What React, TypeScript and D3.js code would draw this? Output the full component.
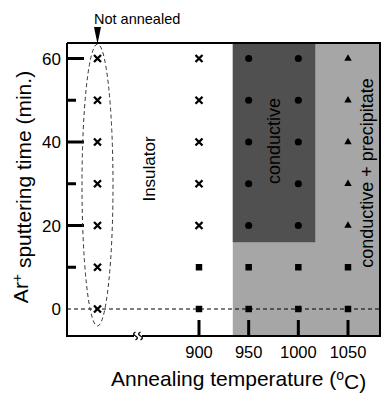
import * as d3 from "d3";
import React from "react";

// sputtering times (min.) and annealing temperatures (°C)
const times = [0, 10, 20, 30, 40, 50, 60];
const temps = [900, 950, 1000, 1050];
const yTicksMajor = [60, 40, 20];
const yTickLabels = [0, 20, 40, 60];
const yTicksMinor = [50, 30, 10];

// marker per time, for the not-annealed column and each temperature
const notAnnealedMarkers = ["x", "x", "x", "x", "x", "x", "x"];
const markers900 = ["square", "square", "x", "x", "x", "x", "x"];
const markers950 = ["square", "square", "circle", "circle", "circle", "circle", "circle"];
const markers1000 = ["square", "square", "circle", "circle", "circle", "circle", "circle"];
const markers1050 = ["square", "square", "triangle", "triangle", "triangle", "triangle", "triangle"];
const markersByTemp = [markers900, markers950, markers1000, markers1050];

// phase regions
const conductiveTemps = [934, 1017];
const conductiveMinTime = 16;
const precipitateStartTemp = 934;

const W = 381;
const H = 395;
const left = 67;
const right = 380;
const top = 43;
const bottom = 336;
const notAnnealedX = 97.5;
const font = "'Liberation Sans', Arial, sans-serif";

const x = d3.scaleLinear().domain([900, 1050]).range([199, 348]);
const y = d3.scaleLinear().domain([0, 60]).range([309, 58.5]);

const circlePath = d3.symbol().type(d3.symbolCircle).size(40)()!;
const squarePath = d3.symbol().type(d3.symbolSquare).size(42)()!;
const trianglePath = d3.symbol().type(d3.symbolTriangle).size(24)()!;

function Marker({ kind, cx, cy }: { kind: string; cx: number; cy: number }) {
  if (kind === "x") {
    const s = 3.5;
    return (
      <path
        d={`M${cx - s},${cy - s}L${cx + s},${cy + s}M${cx - s},${cy + s}L${cx + s},${cy - s}`}
        stroke="#000"
        strokeWidth={2.3}
      />
    );
  }
  const d = kind === "circle" ? circlePath : kind === "square" ? squarePath : trianglePath;
  return <path d={d} transform={`translate(${cx},${cy})`} fill="#000" />;
}

export default function App() {
  const bx = 138;
  return (
    <svg
      width={W}
      height={H}
      style={{ position: "absolute", left: 0, top: 0 }}
      fontFamily={font}
    >
      {/* regions */}
      <rect
        x={x(precipitateStartTemp)}
        y={top}
        width={right - x(precipitateStartTemp)}
        height={bottom - top}
        fill="#a6a6a6"
      />
      <rect
        x={x(conductiveTemps[0])}
        y={top}
        width={x(conductiveTemps[1]) - x(conductiveTemps[0])}
        height={y(conductiveMinTime) - top}
        fill="#505050"
      />

      {/* zero line */}
      <line x1={left} x2={right} y1={y(0)} y2={y(0)} stroke="#000" strokeWidth={1} strokeDasharray="4,3" />

      {/* frame */}
      <path
        d={`M${left},${top}H${right}V${bottom}H${bx + 4}M${bx - 4},${bottom}H${left}V${top}`}
        fill="none"
        stroke="#000"
        strokeWidth={2}
      />
      {/* axis break */}
      <path
        d={`M${bx - 2.5},${bottom - 4}c-2.5,1.5 -2.5,2.5 0,4c2.5,1.5 2.5,2.5 0,4M${bx + 2.5},${bottom - 4}c-2.5,1.5 -2.5,2.5 0,4c2.5,1.5 2.5,2.5 0,4`}
        fill="none"
        stroke="#000"
        strokeWidth={1.4}
      />

      {/* y ticks */}
      {yTicksMajor.map((t) => (
        <line key={"M" + t} x1={left} x2={left + 17} y1={y(t)} y2={y(t)} stroke="#000" strokeWidth={3} />
      ))}
      {yTicksMinor.map((t) => (
        <line key={"m" + t} x1={left} x2={left + 9} y1={y(t)} y2={y(t)} stroke="#000" strokeWidth={3} />
      ))}
      {yTickLabels.map((t) => (
        <text key={"l" + t} x={61} y={y(t)} dy="0.36em" textAnchor="end" fontSize={17}>
          {t}
        </text>
      ))}

      {/* x ticks */}
      {temps.map((t) => (
        <g key={"x" + t}>
          <line x1={x(t)} x2={x(t)} y1={bottom} y2={bottom - 16} stroke="#000" strokeWidth={3} />
          <text x={x(t)} y={358} textAnchor="middle" fontSize={16.5}>
            {t}
          </text>
        </g>
      ))}

      {/* markers */}
      {times.map((t, i) => (
        <Marker key={"na" + t} kind={notAnnealedMarkers[i]} cx={notAnnealedX} cy={y(t)} />
      ))}
      {temps.map((temp, j) =>
        times.map((t, i) => (
          <Marker key={temp + "-" + t} kind={markersByTemp[j][i]} cx={x(temp)} cy={y(t)} />
        ))
      )}

      {/* not annealed ellipse + arrow */}
      <ellipse
        cx={notAnnealedX}
        cy={185}
        rx={15.5}
        ry={141}
        fill="none"
        stroke="#333"
        strokeWidth={1}
        strokeDasharray="4,3"
      />
      <path d={`M${notAnnealedX - 3.5},27L${notAnnealedX + 3.5},27L${notAnnealedX},44Z`} fill="#000" />
      <text x={94} y={24} fontSize={14.5}>
        Not annealed
      </text>

      {/* region labels */}
      <text transform="translate(155,169) rotate(-90)" textAnchor="middle" fontSize={17}>
        Insulator
      </text>
      <text transform="translate(280,141) rotate(-90)" textAnchor="middle" fontSize={18}>
        conductive
      </text>
      <text transform="translate(373,173) rotate(-90)" textAnchor="middle" fontSize={18}>
        conductive + precipitate
      </text>

      {/* axis titles */}
      <text transform="translate(28,187) rotate(-90)" textAnchor="middle" fontSize={21}>
        Ar<tspan dy="-0.45em" fontSize={14}>+</tspan>
        <tspan dy="0.45em"> sputtering time (min.)</tspan>
      </text>
      <text x={111} y={386} fontSize={21}>
        Annealing temperature (<tspan dy="-0.45em" fontSize={14}>o</tspan>
        <tspan dy="0.45em">C)</tspan>
      </text>
    </svg>
  );
}
